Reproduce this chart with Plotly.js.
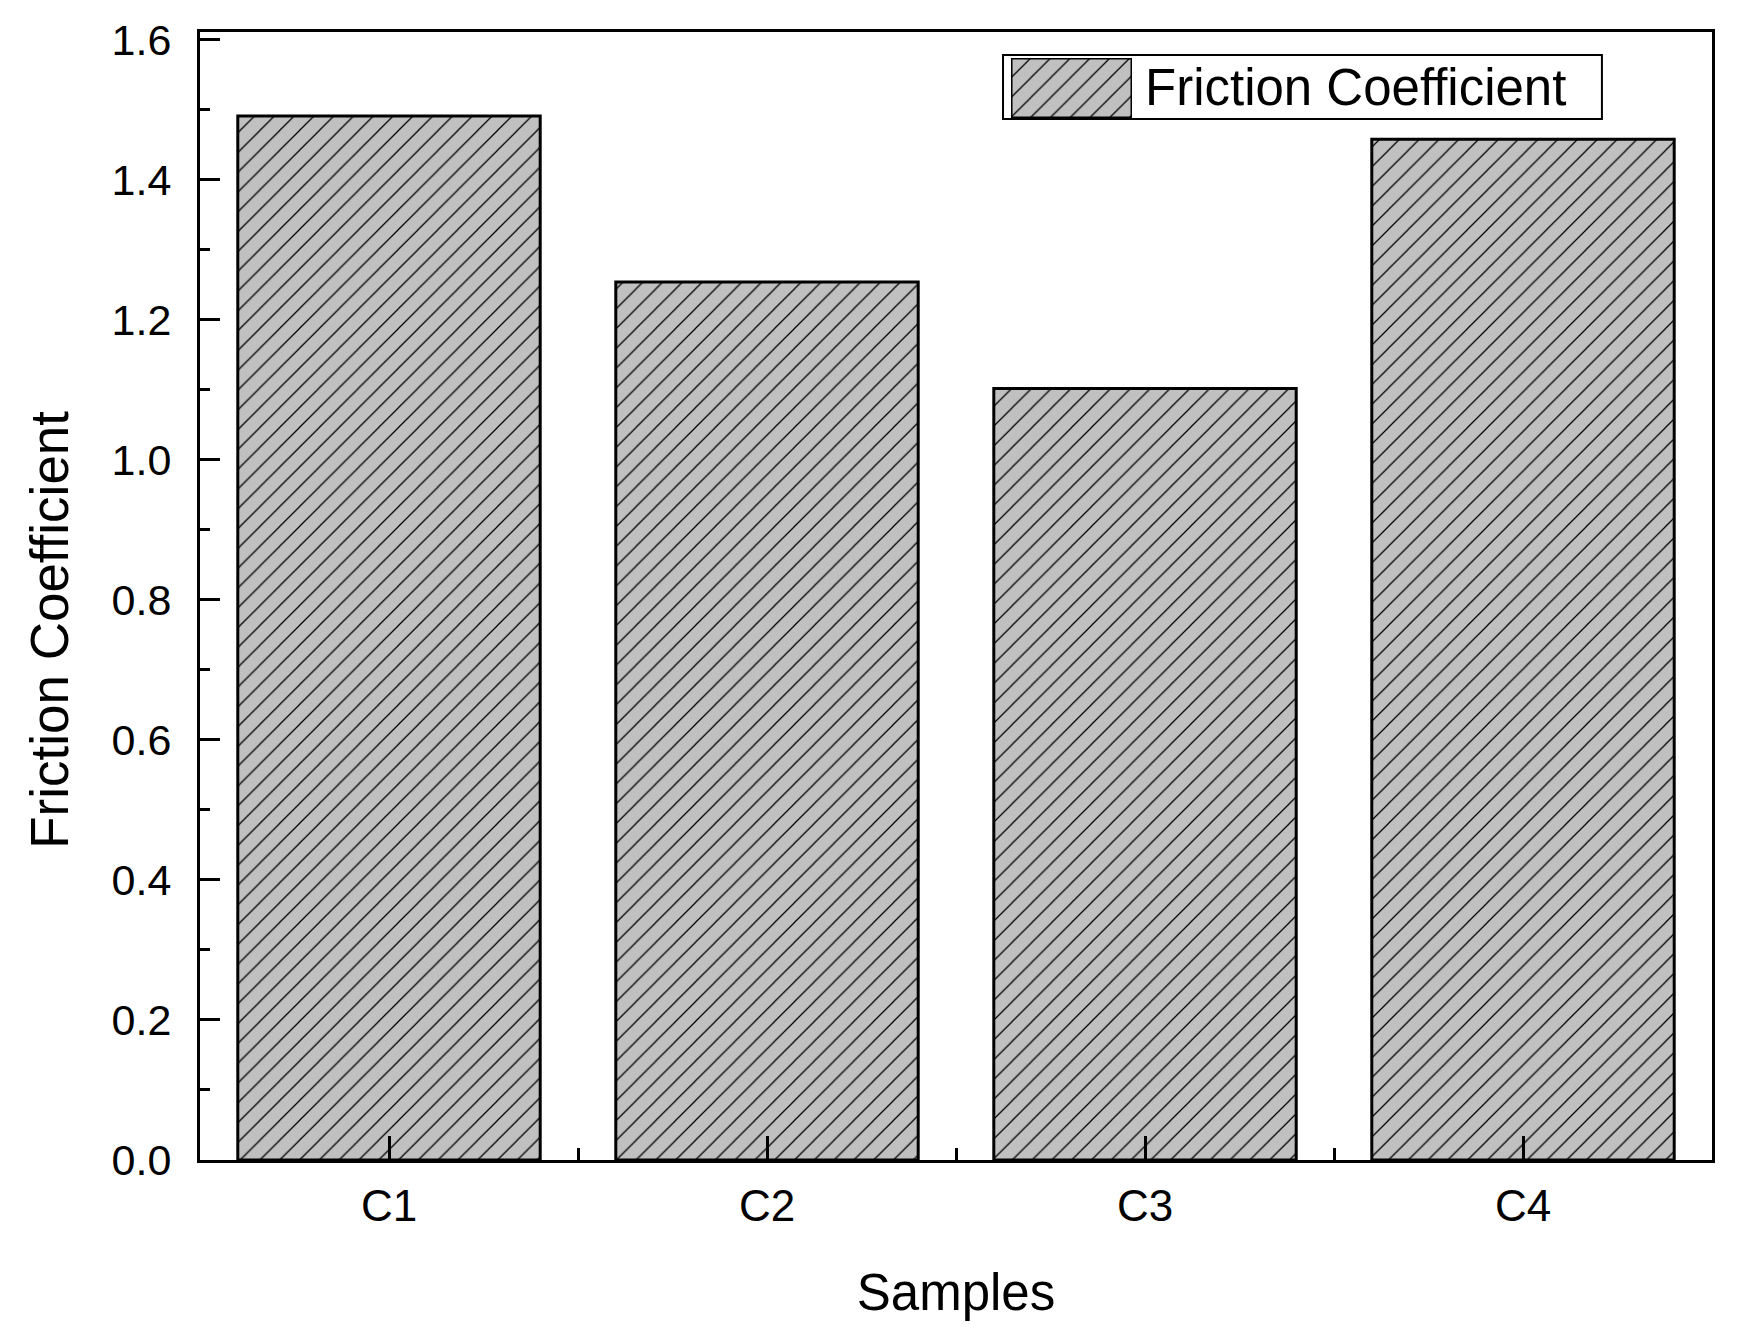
<!DOCTYPE html>
<html>
<head>
<meta charset="utf-8">
<script src="https://cdn.plot.ly/plotly-3.0.1.min.js"></script>
<style>html,body{margin:0;padding:0;background:#fff;}#chart{width:1741px;height:1336px;}</style>
</head>
<body>
<div id="chart"></div>
<script>
const categories = ["C1", "C2", "C3", "C4"];
const frictionCoefficient = [1.491, 1.254, 1.102, 1.458];
const seriesName = "Friction Coefficient";
const xTitle = "Samples";
const yTitle = "Friction Coefficient";

const positions = categories.map((_, i) => i);
const font = "Arial, 'Liberation Sans', sans-serif";
const barMarker = {
  color: "#c0c0c0",
  line: {color: "#000", width: 3},
  pattern: {shape: "/", fgcolor: "#000", bgcolor: "#c0c0c0", size: 14, solidity: 0.09, fillmode: "replace"}
};

const trace = {
  type: "bar",
  x: positions,
  y: frictionCoefficient,
  name: seriesName,
  width: 0.8,
  marker: barMarker,
  showlegend: false
};

// Legend swatch (Origin-style large legend key), drawn on its own small axes
const swatch = {
  type: "bar",
  x: [0], y: [1],
  xaxis: "x2", yaxis: "y2",
  width: 1,
  marker: barMarker,
  cliponaxis: false,
  showlegend: false,
  hoverinfo: "skip"
};

const hidden = {visible: false, fixedrange: true};

const layout = {
  width: 1741, height: 1336,
  margin: {l: 200, r: 29, t: 32, b: 176},
  paper_bgcolor: "#fff", plot_bgcolor: "#fff",
  font: {family: font, color: "#000"},
  showlegend: false,
  xaxis: {
    range: [-0.5, 3.5],
    tickmode: "array", tickvals: positions, ticktext: categories,
    ticks: "inside", ticklen: 24, tickwidth: 3, tickcolor: "#000",
    minor: {ticks: "inside", tick0: 0.5, dtick: 1, ticklen: 12, tickwidth: 3, tickcolor: "#000"},
    showline: true, linecolor: "#000", linewidth: 3, mirror: true,
    showgrid: false, zeroline: false,
    tickfont: {size: 44, family: font},
    ticklabelstandoff: 5,
    title: {text: xTitle, font: {size: 51, family: font}, standoff: 46}
  },
  yaxis: {
    range: [0, 1.611],
    tick0: 0, dtick: 0.2, tickformat: ".1f",
    ticks: "inside", ticklen: 20, tickwidth: 3, tickcolor: "#000",
    minor: {ticks: "inside", dtick: 0.1, ticklen: 10, tickwidth: 3, tickcolor: "#000"},
    showline: true, linecolor: "#000", linewidth: 3, mirror: true,
    showgrid: false, zeroline: false,
    tickfont: {size: 43, family: font},
    ticklabelstandoff: 17
  },
  xaxis2: Object.assign({domain: [0.5364, 0.6164], range: [-0.5, 0.5], anchor: "y2"}, hidden),
  yaxis2: Object.assign({domain: [0.9238, 0.9770], range: [0, 1], anchor: "x2"}, hidden),
  shapes: [{
    type: "rect", xref: "paper", yref: "paper",
    x0: 0.5311, x1: 0.9272, y0: 0.9229, y1: 0.9796,
    line: {color: "#000", width: 2}, fillcolor: "#fff", layer: "below"
  }],
  annotations: [{
    text: seriesName, xref: "paper", yref: "paper",
    x: 0.6240, y: 0.9505, xanchor: "left", yanchor: "middle",
    showarrow: false, font: {size: 51, family: font, color: "#000"}
  }, {
    text: yTitle, xref: "paper", yref: "paper",
    x: -0.0992, y: 0.470, xanchor: "center", yanchor: "middle",
    textangle: -90, showarrow: false,
    font: {size: 53, family: font, color: "#000"}
  }]
};

Plotly.newPlot("chart", [trace, swatch], layout, {displayModeBar: false, staticPlot: true});
</script>
</body>
</html>
